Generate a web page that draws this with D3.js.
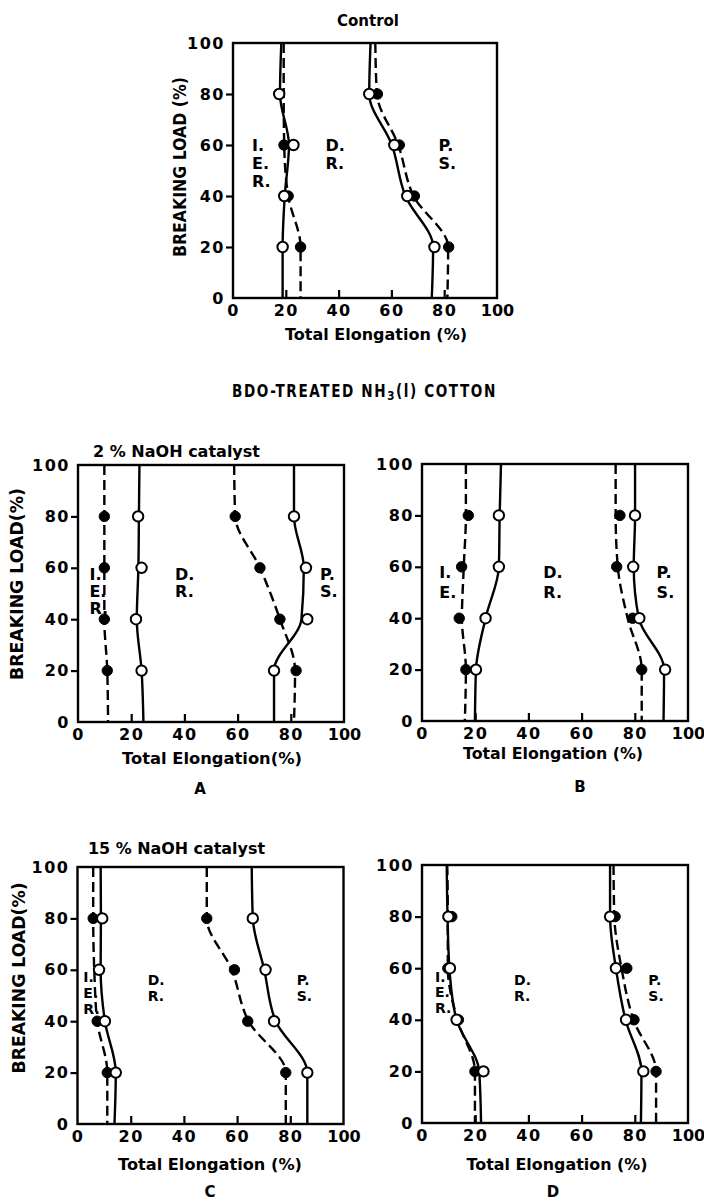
<!DOCTYPE html>
<html lang="en">
<head>
<meta charset="UTF-8">
<title>Breaking load vs total elongation</title>
<script src="https://cdnjs.cloudflare.com/ajax/libs/d3/7.8.5/d3.min.js"></script>
<style>
  body { margin: 0; background: #fff; }
  svg { display: block; font-family: "DejaVu Sans", sans-serif; font-weight: bold; }
  .frame { fill: none; stroke: #000; stroke-width: 2.4; }
  .axis path { display: none; }
  .axis line { stroke: #000; stroke-width: 2.2; }
  .axis text { font-family: "DejaVu Sans", sans-serif; font-weight: bold; font-size: 16px; fill: #000; letter-spacing: 1.5px; }
  .curve { fill: none; stroke: #000; stroke-width: 2.4; }
  .curve.dashed { stroke-dasharray: 10 5; }
  .open { fill: #fff; stroke: #000; stroke-width: 2; }
  .filled { fill: #000; stroke: #000; stroke-width: 1; }
  .lbl { fill: #000; }
</style>
</head>
<body>
<svg id="chart" width="704" height="1201"></svg>
<script>
// levels (breaking load %) where markers sit, and where curves have nodes
const markLevels = [80, 60, 40, 20];
const pathLevels = [100, 80, 60, 40, 20, 0];
const axisTicks = [0, 20, 40, 60, 80, 100];

// Control
const ctrlOpenL = [17.5, 22.9, 19.4, 18.8];
const ctrlOpenLPath = [18.3, 17.8, 21.2, 19.6, 18.8, 18.8];
const ctrlFilledL = [null, 19.3, 20.9, 25.6];
const ctrlFilledLPath = [19.2, 19.2, 19.4, 20.9, 25.6, 25.6];
const ctrlOpenR = [51.6, 61.1, 66.0, 76.3];
const ctrlOpenRPath = [52.1, 51.6, 60.2, 65.3, 75.8, 75.3];
const ctrlFilledR = [54.7, 63.0, 68.7, 81.7];
const ctrlFilledRPath = [53.9, 54.5, 62.6, 68.4, 81.5, 81.2];

// A: 2% NaOH
const aFilledL = [9.9, 9.9, 9.9, 11.0];
const aFilledLPath = [9.9, 9.9, 9.9, 9.9, 11.0, 11.3];
const aOpenL = [22.6, 23.9, 21.8, 23.9];
const aOpenLPath = [23.1, 22.9, 22.7, 22.1, 23.9, 24.6];
const aFilledR = [59.1, 68.4, 75.9, 82.0];
const aFilledRPath = [58.7, 59.1, 68.4, 75.9, 81.6, 81.2];
const aOpenR = [81.2, 85.7, 86.2, 73.7];
const aOpenRPath = [81.2, 81.2, 84.9, 84.0, 73.7, 73.7];

// B
const bFilledL = [17.4, 14.9, 14.0, 16.5];
const bFilledLPath = [16.5, 16.5, 15.7, 15.0, 16.5, 16.1];
const bOpenL = [28.9, 28.9, 23.9, 20.3];
const bOpenLPath = [29.7, 29.2, 28.9, 23.9, 20.3, 19.9];
const bFilledR = [74.4, 73.2, 79.2, 82.6];
const bFilledRPath = [72.8, 72.8, 73.6, 77.3, 82.6, 82.6];
const bOpenR = [80.1, 79.4, 81.7, 91.4];
const bOpenRPath = [80.1, 80.1, 79.6, 81.5, 91.0, 90.8];

// C: 15% NaOH
const cFilledL = [5.9, null, 7.4, 11.2];
const cFilledLPath = [5.9, 5.9, 6.3, 7.4, 11.2, 11.2];
const cOpenL = [9.3, 8.1, 10.3, 14.4];
const cOpenLPath = [8.7, 8.8, 8.7, 10.3, 14.4, 13.9];
const cFilledR = [48.6, 59.0, 64.0, 78.3];
const cFilledRPath = [48.6, 48.6, 58.0, 64.3, 78.3, 78.3];
const cOpenR = [65.9, 70.7, 73.9, 86.4];
const cOpenRPath = [65.5, 65.9, 70.2, 74.5, 86.4, 86.4];

// D
const dFilledL = [11.2, 9.7, 13.7, 19.9];
const dFilledLPath = [9.5, 9.7, 9.7, 13.3, 19.9, 19.9];
const dOpenL = [9.9, 10.5, 13.0, 23.1];
const dOpenLPath = [9.3, 9.6, 10.3, 13.0, 21.5, 22.2];
const dFilledR = [72.6, 77.0, 79.7, 88.0];
const dFilledRPath = [72.0, 72.3, 75.0, 79.5, 88.0, 88.0];
const dOpenR = [70.7, 72.9, 76.7, 83.2];
const dOpenRPath = [70.7, 70.7, 72.9, 76.5, 82.5, 82.3];

// region labels
const ierText = ["I.", "E.", "R."];
const ieText = ["I.", "E."];
const drText = ["D.", "R."];
const psText = ["P.", "S."];

const svg = d3.select("#chart");

// helper for squeezed text (narrow bold lettering of the original)
function label(x, y, str, size, len, rotate) {
  const t = svg.append("text")
    .attr("class", "lbl")
    .attr("text-anchor", "middle")
    .attr("dominant-baseline", "central")
    .style("font-size", size + "px")
    .text(str);
  if (len) t.attr("textLength", len).attr("lengthAdjust", "spacingAndGlyphs");
  if (rotate) t.attr("transform", `translate(${x},${y}) rotate(-90)`);
  else t.attr("x", x).attr("y", y);
  return t;
}

const panels = [
  { left: 233, right: 497, bottom: 298, top: 43,
    series: [
      [ctrlFilledL, ctrlFilledLPath, false], [ctrlFilledR, ctrlFilledRPath, false],
      [ctrlOpenL, ctrlOpenLPath, true], [ctrlOpenR, ctrlOpenRPath, true]],
    regions: [[ierText, 7.2, 60], [drText, 35, 60], [psText, 77.8, 60]],
    regionSize: 16, regionStep: 18 },
  { left: 78, right: 344, bottom: 722, top: 465,
    series: [
      [aFilledL, aFilledLPath, false], [aFilledR, aFilledRPath, false],
      [aOpenL, aOpenLPath, true], [aOpenR, aOpenRPath, true]],
    regions: [[ierText, 4.3, 57.5], [drText, 36.5, 57.5], [psText, 91, 57.5]],
    regionSize: 16, regionStep: 17 },
  { left: 422, right: 688, bottom: 721, top: 464,
    series: [
      [bFilledL, bFilledLPath, false], [bFilledR, bFilledRPath, false],
      [bOpenL, bOpenLPath, true], [bOpenR, bOpenRPath, true]],
    regions: [[ieText, 6.5, 57.6], [drText, 45.6, 57.6], [psText, 88.2, 57.6]],
    regionSize: 16, regionStep: 20 },
  { left: 77.5, right: 343.5, bottom: 1124, top: 867,
    series: [
      [cFilledL, cFilledLPath, false], [cFilledR, cFilledRPath, false],
      [cOpenL, cOpenLPath, true], [cOpenR, cOpenRPath, true]],
    regions: [[ierText, 2.2, 57.3], [drText, 26.4, 56], [psText, 82.4, 56]],
    regionSize: 14, regionStep: 16 },
  { left: 422, right: 688, bottom: 1123, top: 865,
    series: [
      [dFilledL, dFilledLPath, false], [dFilledR, dFilledRPath, false],
      [dOpenL, dOpenLPath, true], [dOpenR, dOpenRPath, true]],
    regions: [[ierText, 4.9, 56.7], [drText, 34.6, 55.4], [psText, 85.1, 55.4]],
    regionSize: 14, regionStep: 15.5 }
];

panels.forEach(p => {
  const x = d3.scaleLinear().domain([0, 100]).range([p.left, p.right]);
  const y = d3.scaleLinear().domain([0, 100]).range([p.bottom, p.top]);
  const g = svg.append("g");

  // y axis: outward ticks, labels on all six values
  g.append("g")
    .attr("class", "axis")
    .attr("transform", `translate(${p.left},0)`)
    .call(d3.axisLeft(y).tickValues(axisTicks).tickSize(7).tickPadding(1))
    .call(a => a.selectAll(".tick line").filter(d => d === 0 || d === 100).remove());

  // x axis: inward ticks
  g.append("g")
    .attr("class", "axis")
    .attr("transform", `translate(0,${p.bottom})`)
    .call(d3.axisBottom(x).tickValues(axisTicks).tickSize(-8).tickPadding(7))
    .call(a => a.selectAll(".tick line").filter(d => d === 0 || d === 100).remove())
    .call(a => a.selectAll(".tick text").filter(d => d === 100).style("letter-spacing", "0px"));

  g.append("rect")
    .attr("class", "frame")
    .attr("x", p.left).attr("y", p.top)
    .attr("width", p.right - p.left).attr("height", p.bottom - p.top);

  const line = d3.line()
    .x(v => x(v))
    .y((v, i) => y(pathLevels[i]))
    .curve(d3.curveMonotoneY);

  p.series.forEach(([marks, path, open]) => {
    g.append("path")
      .attr("class", open ? "curve" : "curve dashed")
      .attr("d", line(path));
  });

  // filled markers first, open ones on top
  p.series.forEach(([marks, path, open]) => {
    const pts = marks.map((v, i) => [v, markLevels[i]]).filter(d => d[0] !== null);
    g.selectAll(null)
      .data(pts)
      .join("circle")
      .attr("class", open ? "open" : "filled")
      .attr("cx", d => x(d[0]))
      .attr("cy", d => y(d[1]))
      .attr("r", 5.2);
  });

  p.regions.forEach(([lines, rx, ry]) => {
    lines.forEach((s, i) => {
      g.append("text")
        .attr("class", "lbl")
        .attr("x", x(rx))
        .attr("y", y(ry) + i * p.regionStep)
        .attr("dominant-baseline", "central")
        .style("font-size", p.regionSize + "px")
        .text(s);
    });
  });
});

// titles and axis labels
label(368, 20, "Control", 16, 62);
label(180, 167, "BREAKING LOAD (%)", 17, 180, true);
label(376, 334, "Total Elongation (%)", 16.5, 182);

// main heading: laid out normally, then squeezed horizontally to its width
const mainG = svg.append("g");
const main = mainG.append("text")
  .attr("class", "lbl")
  .attr("x", 0).attr("y", 0)
  .attr("text-anchor", "middle")
  .attr("dominant-baseline", "central")
  .style("font-size", "17px")
  .style("letter-spacing", "2px");
main.append("tspan").text("BDO-TREATED NH");
main.append("tspan").attr("dy", 5).style("font-size", "13px").text("3");
main.append("tspan").attr("dy", -5).text("(l) COTTON");
const mainW = main.node().getBBox().width;
mainG.attr("transform", `translate(364.5,391) scale(${265 / mainW},1)`);

label(176.5, 451, "2 % NaOH catalyst", 16, 167);
label(17, 584, "BREAKING LOAD(%)", 17, 192, true);
label(212, 758, "Total Elongation(%)", 16.5, 180);
label(200, 789, "A", 15);

label(553, 753, "Total Elongation (%)", 16.5, 180);
label(580, 787, "B", 15);

label(176.5, 848, "15 % NaOH catalyst", 16, 177);
label(19, 978, "BREAKING LOAD(%)", 17, 191, true);
label(210, 1164, "Total Elongation (%)", 16.5, 184);
label(210, 1192, "C", 15);

label(557, 1164, "Total Elongation (%)", 16.5, 181);
label(553, 1192, "D", 15);
</script>
</body>
</html>
